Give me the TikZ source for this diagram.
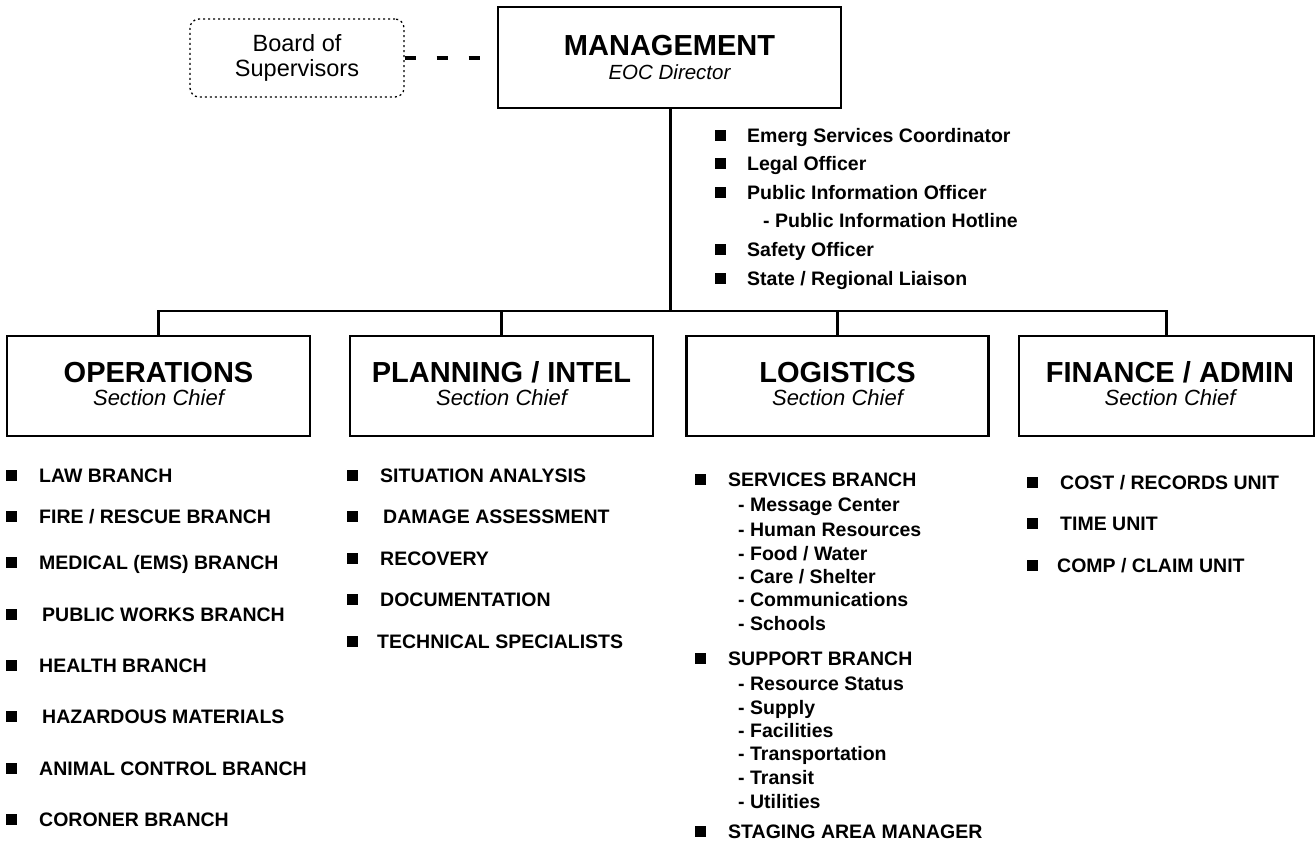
\documentclass[tikz,border=0pt]{standalone}
\usepackage{fontspec}
\setmainfont{Liberation Sans}
\usepackage{tikz}

\tikzset{
  secbox/.style={draw, line width=2.5pt, minimum width=303pt, minimum height=100pt, inner sep=0pt},
  bul/.style={fill=black, minimum size=11pt, inner sep=0pt},
  item/.style={anchor=base west, inner sep=0pt, font=\fontsize{19.5}{23}\selectfont\bfseries},
  ttl/.style={anchor=base, inner sep=0pt, font=\fontsize{29}{33}\selectfont\bfseries},
  chief/.style={anchor=base, inner sep=0pt, font=\fontsize{22}{26}\selectfont\itshape},
  link/.style={line width=2.5pt}
}

\begin{document}
\begin{tikzpicture}[x=1pt, y=-1pt]
        \useasboundingbox (0,0) rectangle (1316,846);
        % top row
        \node [draw, line width=2.5pt, minimum width=343pt, minimum height=101pt] (mgmt) at (669.5,57.5) {};%
        \node [ttl] (mgmtT) at (669.5,55) {MANAGEMENT};                    %
        \node [chief, font=\fontsize{20.5}{24}\selectfont\itshape] (mgmtC) at (669.5,79) {EOC Director};%
        \node [draw, line width=1.3pt, dash pattern=on 2pt off 3pt, rounded corners=9pt,
               minimum width=214pt, minimum height=78pt] (board) at (297,58) {};%
        \node [anchor=base, inner sep=0pt, font=\fontsize{23.5}{27}\selectfont] (boardA) at (297,51) {Board of};%
        \node [anchor=base, inner sep=0pt, font=\fontsize{23.5}{27}\selectfont] (boardB) at (297,76) {Supervisors};%
        \draw [line width=4pt, dash pattern=on 11pt off 21pt] (board.east) -- (mgmt.west |- board.east);%

        % management staff
        \node [bul] (m1b) at (720,135) {}; \node [item] (m1) at (747,142) {Emerg Services Coordinator};%
        \node [bul] (m2b) at (720,163) {}; \node [item] (m2) at (747,170) {Legal Officer};              %
        \node [bul] (m3b) at (720,192) {}; \node [item] (m3) at (747,199) {Public Information Officer}; %
                                           \node [item] (m3s) at (763,227) {- Public Information Hotline};%
        \node [bul] (m4b) at (720,249) {}; \node [item] (m4) at (747,256) {Safety Officer};             %
        \node [bul] (m5b) at (720,278) {}; \node [item] (m5) at (747,285) {State / Regional Liaison};   %

        % sections
        \node [secbox] (ops)  at (158.5,386)  {};                             %Operations
        \node [ttl]    (opsT) at (158.5,382)  {OPERATIONS};                   %
        \node [chief]  (opsC) at (158.5,405)  {Section Chief};                %
        \node [secbox] (plan) at (501.5,386)  {};                             %Planning
        \node [ttl]    (planT) at (501.5,382) {PLANNING / INTEL};             %
        \node [chief]  (planC) at (501.5,405) {Section Chief};                %
        \node [secbox, minimum width=302pt] (logi) at (837.5,386) {};         %Logistics
        \node [ttl]    (logiT) at (837.5,382) {LOGISTICS};                    %
        \node [chief]  (logiC) at (837.5,405) {Section Chief};                %
        \node [secbox, minimum width=295pt] (fin) at (1166.5,386) {};         %Finance
        \node [ttl]    (finT) at (1170,382)   {FINANCE / ADMIN};              %
        \node [chief]  (finC) at (1170,405)   {Section Chief};                %

        % connectors
        \coordinate (bus) at (670.5,311);                                     %
        \draw [link] (mgmt.south -| bus) -- (bus);                            %
        \draw [link] (ops.north) |- (bus) -| (fin.north);                     %
        \draw [link] (plan.north) -- (plan.north |- bus);                     %
        \draw [link] (logi.north) -- (logi.north |- bus);                     %

        % operations list
        \node [bul] (o1b) at (11,475) {}; \node [item] (o1) at (39,482) {LAW BRANCH};            %
        \node [bul] (o2b) at (11,516) {}; \node [item] (o2) at (39,523) {FIRE / RESCUE BRANCH};  %
        \node [bul] (o3b) at (11,562) {}; \node [item] (o3) at (39,569) {MEDICAL (EMS) BRANCH};  %
        \node [bul] (o4b) at (11,614) {}; \node [item] (o4) at (42,621) {PUBLIC WORKS BRANCH};   %
        \node [bul] (o5b) at (11,665) {}; \node [item] (o5) at (39,672) {HEALTH BRANCH};         %
        \node [bul] (o6b) at (11,716) {}; \node [item] (o6) at (42,723) {HAZARDOUS MATERIALS};   %
        \node [bul] (o7b) at (11,768) {}; \node [item] (o7) at (39,775) {ANIMAL CONTROL BRANCH}; %
        \node [bul] (o8b) at (11,819) {}; \node [item] (o8) at (39,826) {CORONER BRANCH};        %

        % planning list
        \node [bul] (p1b) at (352,475) {}; \node [item] (p1) at (380,482) {SITUATION ANALYSIS};  %
        \node [bul] (p2b) at (352,516) {}; \node [item] (p2) at (383,523) {DAMAGE ASSESSMENT};   %
        \node [bul] (p3b) at (352,558) {}; \node [item] (p3) at (380,565) {RECOVERY};            %
        \node [bul] (p4b) at (352,599) {}; \node [item] (p4) at (380,606) {DOCUMENTATION};       %
        \node [bul] (p5b) at (352,641) {}; \node [item] (p5) at (377,648) {TECHNICAL SPECIALISTS};%

        % logistics list
        \node [bul] (l1b) at (700,479) {}; \node [item] (l1) at (728,486) {SERVICES BRANCH};     %
        \node [item] (l1a) at (738,511) {- Message Center};                                      %
        \node [item] (l1c) at (738,536) {- Human Resources};                                     %
        \node [item] (l1d) at (738,560) {- Food / Water};                                        %
        \node [item] (l1e) at (738,583) {- Care / Shelter};                                      %
        \node [item] (l1f) at (738,606) {- Communications};                                      %
        \node [item] (l1g) at (738,630) {- Schools};                                             %
        \node [bul] (l2b) at (700,658) {}; \node [item] (l2) at (728,665) {SUPPORT BRANCH};      %
        \node [item] (l2a) at (738,690) {- Resource Status};                                     %
        \node [item] (l2c) at (738,714) {- Supply};                                              %
        \node [item] (l2d) at (738,737) {- Facilities};                                          %
        \node [item] (l2e) at (738,760) {- Transportation};                                      %
        \node [item] (l2f) at (738,784) {- Transit};                                             %
        \node [item] (l2g) at (738,808) {- Utilities};                                           %
        \node [bul] (l3b) at (700,831) {}; \node [item] (l3) at (728,838) {STAGING AREA MANAGER};%

        % finance list
        \node [bul] (f1b) at (1032,482) {}; \node [item] (f1) at (1060,489) {COST / RECORDS UNIT};%
        \node [bul] (f2b) at (1032,523) {}; \node [item] (f2) at (1060,530) {TIME UNIT};          %
        \node [bul] (f3b) at (1032,565) {}; \node [item] (f3) at (1057,572) {COMP / CLAIM UNIT};  %
\end{tikzpicture}
\end{document}
